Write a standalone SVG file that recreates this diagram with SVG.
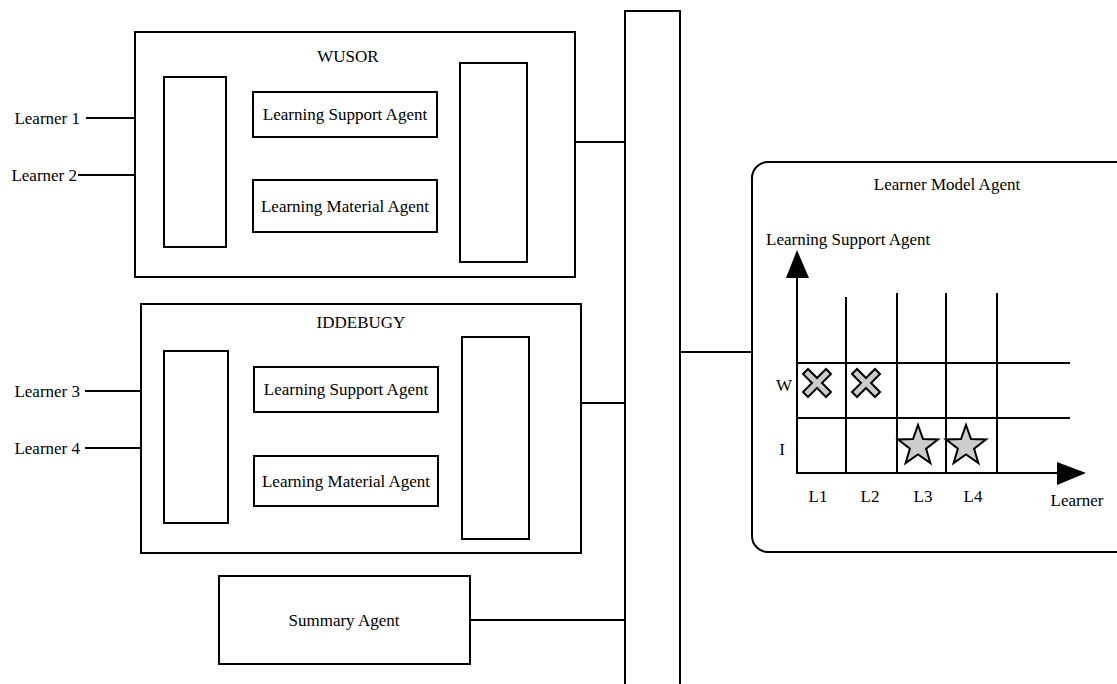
<svg xmlns="http://www.w3.org/2000/svg" width="1117" height="684" viewBox="0 0 1117 684">
<style>
  .box{fill:#fff;stroke:#000;stroke-width:2}
  .ln{stroke:#000;stroke-width:2;fill:none}
  .t{font-family:"Liberation Serif","Times New Roman",serif;font-size:17px;fill:#000}
  .c{text-anchor:middle}
  .e{text-anchor:end}
  .mk{fill:#ccc;stroke:#000;stroke-width:2;stroke-linejoin:miter}
</style>
<defs>
  <polygon id="cross" class="mk" points="-14,-9 -9,-14 0,-5 9,-14 14,-9 5,0 14,9 9,14 0,5 -9,14 -14,9 -5,0"/>
  <polygon id="star" class="mk" points="0,-21 5,-6.88 19.97,-6.49 8.08,2.63 12.34,16.99 0,8.5 -12.34,16.99 -8.08,2.63 -19.97,-6.49 -5,-6.88"/>
</defs>
<rect width="1117" height="684" fill="#fff"/>

<g id="connectors">
  <line class="ln" x1="86" y1="118" x2="135" y2="118"/>
  <line class="ln" x1="78" y1="175" x2="135" y2="175"/>
  <line class="ln" x1="85" y1="391" x2="141" y2="391"/>
  <line class="ln" x1="85" y1="448" x2="141" y2="448"/>
  <line class="ln" x1="527" y1="142" x2="625" y2="142"/>
  <line class="ln" x1="529" y1="403" x2="625" y2="403"/>
  <line class="ln" x1="470" y1="620" x2="625" y2="620"/>
  <line class="ln" x1="680" y1="352" x2="752" y2="352"/>
</g>

<g id="bus">
  <polyline class="ln" points="625,684 625,11 680,11 680,684"/>
</g>

<g id="learners">
  <text class="t e" x="80" y="124">Learner 1</text>
  <text class="t e" x="77" y="181">Learner 2</text>
  <text class="t e" x="80" y="397">Learner 3</text>
  <text class="t e" x="80" y="454">Learner 4</text>
</g>

<g id="wusor">
  <rect class="box" x="135" y="32" width="440" height="245"/>
  <text class="t c" x="348" y="62">WUSOR</text>
  <rect class="box" x="164" y="77" width="62" height="170"/>
  <rect class="box" x="253" y="92" width="184" height="45"/>
  <text class="t c" x="345" y="120">Learning Support Agent</text>
  <rect class="box" x="253" y="180" width="184" height="52"/>
  <text class="t c" x="345" y="212">Learning Material Agent</text>
  <rect class="box" x="460" y="63" width="67" height="199"/>
</g>

<g id="iddebugy">
  <rect class="box" x="141" y="304" width="440" height="249"/>
  <text class="t c" x="361" y="328">IDDEBUGY</text>
  <rect class="box" x="164" y="351" width="64" height="172"/>
  <rect class="box" x="254" y="367" width="184" height="45"/>
  <text class="t c" x="346" y="395">Learning Support Agent</text>
  <rect class="box" x="254" y="456" width="184" height="50"/>
  <text class="t c" x="346" y="487">Learning Material Agent</text>
  <rect class="box" x="462" y="337" width="67" height="202"/>
</g>

<g id="summary">
  <rect class="box" x="219" y="576" width="251" height="88"/>
  <text class="t c" x="344" y="626">Summary Agent</text>
</g>

<g id="learner-model">
  <rect class="box" x="752" y="162" width="400" height="390" rx="16" ry="16"/>
  <text class="t c" x="947" y="190">Learner Model Agent</text>
  <text class="t" x="766" y="245">Learning Support Agent</text>
  <line class="ln" x1="797" y1="276" x2="797" y2="474"/>
  <polygon points="797,250 786,278 809,278" fill="#000"/>
  <line class="ln" x1="796" y1="473" x2="1060" y2="473"/>
  <polygon points="1057,462 1086,473 1057,485" fill="#000"/>
  <line class="ln" x1="846" y1="297" x2="846" y2="473"/>
  <line class="ln" x1="897" y1="293" x2="897" y2="473"/>
  <line class="ln" x1="946" y1="293" x2="946" y2="473"/>
  <line class="ln" x1="997" y1="293" x2="997" y2="473"/>
  <line class="ln" x1="797" y1="363" x2="1070" y2="363"/>
  <line class="ln" x1="797" y1="418" x2="1070" y2="418"/>
  <use href="#cross" x="817" y="383"/>
  <use href="#cross" x="866" y="383"/>
  <use href="#star" x="918" y="446"/>
  <use href="#star" x="966" y="446"/>
  <text class="t c" x="784" y="391">W</text>
  <text class="t c" x="782" y="455">I</text>
  <text class="t c" x="818" y="502">L1</text>
  <text class="t c" x="870" y="502">L2</text>
  <text class="t c" x="923" y="502">L3</text>
  <text class="t c" x="973" y="502">L4</text>
  <text class="t c" x="1077" y="506">Learner</text>
</g>
</svg>
